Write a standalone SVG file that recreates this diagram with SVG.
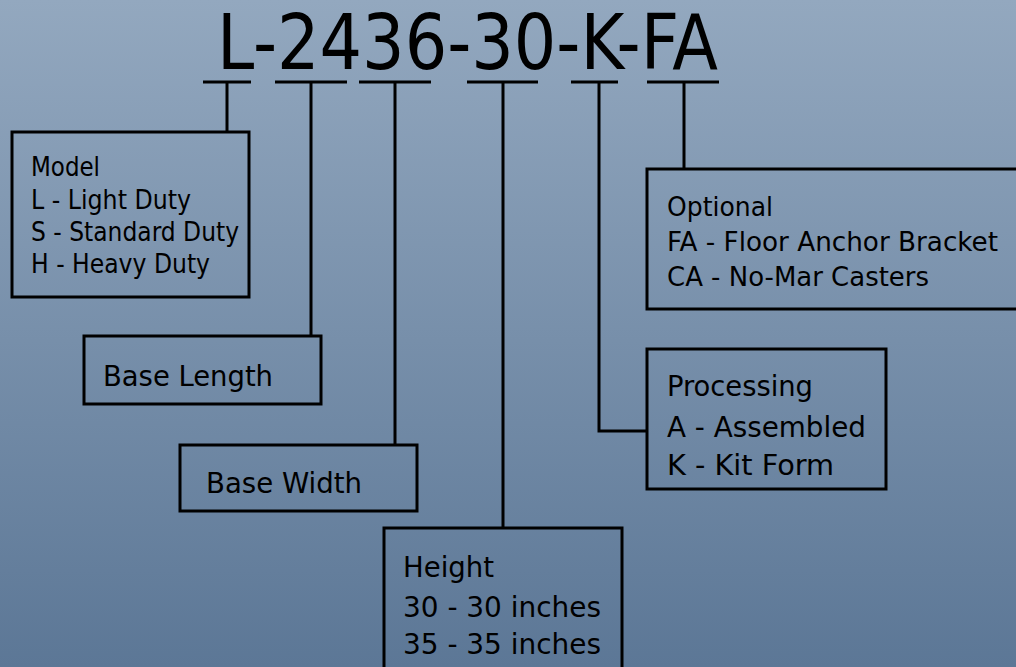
<svg xmlns="http://www.w3.org/2000/svg" width="1016" height="667" viewBox="0 0 1016 667">
<defs>
<linearGradient id="bg" x1="0" y1="0" x2="0" y2="1">
<stop offset="0" stop-color="#93a8bf"/>
<stop offset="1" stop-color="#5c7796"/>
</linearGradient>
</defs>
<style>
.box{fill:none;stroke:#000;stroke-width:3}
.ln{fill:none;stroke:#000;stroke-width:3}
text{font-family:"DejaVu Sans Condensed","DejaVu Sans",sans-serif;fill:#000}
.t{font-size:26px}
.t2{font-size:28px}
.title{font-size:76px}
</style>
<rect width="1016" height="667" fill="url(#bg)"/>
<g id="title">
<text class="title" x="217" y="69" textLength="501" lengthAdjust="spacingAndGlyphs">L-2436-30-K-FA</text>
</g>
<g id="connectors">
<path class="ln" d="M203 82H251M275 82H347M359 82H431M467 82H538M571 82H618M647 82H719"/>
<path class="ln" d="M227 82V132M311 82V336M395 82V445M503 82V528M599 82V431H647M684 82V169"/>
</g>
<g id="model">
<rect class="box" x="12" y="132" width="237" height="165"/>
<text class="t" x="31" y="176" textLength="69" lengthAdjust="spacingAndGlyphs">Model</text>
<text class="t" x="31" y="209" textLength="160" lengthAdjust="spacingAndGlyphs">L - Light Duty</text>
<text class="t" x="31" y="241" textLength="208" lengthAdjust="spacingAndGlyphs">S - Standard Duty</text>
<text class="t" x="31" y="273" textLength="179" lengthAdjust="spacingAndGlyphs">H - Heavy Duty</text>
</g>
<g id="base-length">
<rect class="box" x="84" y="336" width="237" height="68"/>
<text class="t2" x="103" y="386" textLength="170" lengthAdjust="spacingAndGlyphs">Base Length</text>
</g>
<g id="base-width">
<rect class="box" x="180" y="445" width="237" height="66"/>
<text class="t2" x="206" y="493" textLength="156" lengthAdjust="spacingAndGlyphs">Base Width</text>
</g>
<g id="height">
<rect class="box" x="384" y="528" width="238" height="150"/>
<text class="t2" x="403" y="577" textLength="91" lengthAdjust="spacingAndGlyphs">Height</text>
<text class="t2" x="403" y="617" textLength="198" lengthAdjust="spacingAndGlyphs">30 - 30 inches</text>
<text class="t2" x="403" y="654" textLength="198" lengthAdjust="spacingAndGlyphs">35 - 35 inches</text>
</g>
<g id="optional">
<rect class="box" x="647" y="169" width="380" height="140"/>
<text class="t" x="667" y="216" textLength="106" lengthAdjust="spacingAndGlyphs">Optional</text>
<text class="t" x="667" y="251" textLength="331" lengthAdjust="spacingAndGlyphs">FA - Floor Anchor Bracket</text>
<text class="t" x="667" y="286" textLength="262" lengthAdjust="spacingAndGlyphs">CA - No-Mar Casters</text>
</g>
<g id="processing">
<rect class="box" x="647" y="349" width="239" height="140"/>
<text class="t2" x="667" y="396" textLength="146" lengthAdjust="spacingAndGlyphs">Processing</text>
<text class="t2" x="667" y="437" textLength="199" lengthAdjust="spacingAndGlyphs">A - Assembled</text>
<text class="t2" x="667" y="475" textLength="167" lengthAdjust="spacingAndGlyphs">K - Kit Form</text>
</g>
</svg>
